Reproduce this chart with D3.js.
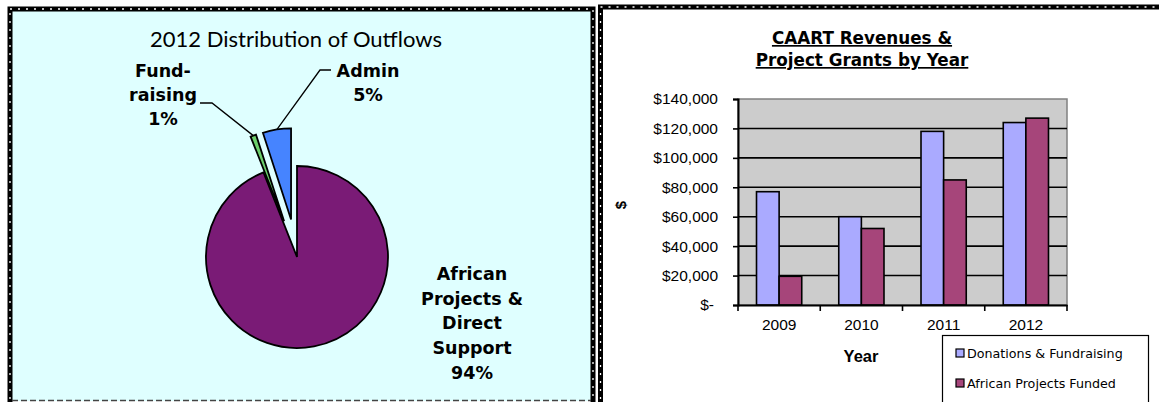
<!DOCTYPE html>
<html>
<head>
<meta charset="utf-8">
<script src="https://cdn.jsdelivr.net/npm/d3@7"></script>
<style>
  body { margin: 0; background: #fff; }
  svg { display: block; }
</style>
</head>
<body>
<div id="chart"></div>
<script>
// pie data
var pieNames = ["African Projects & Direct Support", "Fund-raising", "Admin"]
var pieValues = [94, 1, 5]
var pieColors = ["#7a1b76", "#6ccf6c", "#4684ff"]

// bar data
var years = ["2009", "2010", "2011", "2012"]
var donations = [77000, 60000, 118000, 124000]
var projects = [19500, 52000, 85000, 127000]
var seriesNames = ["Donations & Fundraising", "African Projects Funded"]
var seriesColors = ["#aaaaff", "#a6457a"]
var yTicks = [0, 20000, 40000, 60000, 80000, 100000, 120000, 140000]

var svg = d3.select("#chart").append("svg")
    .attr("width", 1159)
    .attr("height", 402)

// dotted frame like the spreadsheet border
function frame(x, y, w, h) {
    svg.append("rect").attr("x", x).attr("y", y).attr("width", w).attr("height", h)
        .attr("fill", "none").attr("stroke", "#000").attr("stroke-width", 5)
    svg.append("rect").attr("x", x).attr("y", y).attr("width", w).attr("height", h)
        .attr("fill", "none").attr("stroke", "#fff").attr("stroke-width", 1.3)
        .attr("stroke-dasharray", "2,6")
}

// ---------- left panel ----------
svg.append("rect").attr("x", 10).attr("y", 9).attr("width", 583).attr("height", 392)
    .attr("fill", "#dfffff")
frame(10, 9, 583, 420)
svg.append("line").attr("x1", 12).attr("x2", 591).attr("y1", 400.5).attr("y2", 400.5)
    .attr("stroke", "#444").attr("stroke-width", 1.5).attr("stroke-dasharray", "6,3")

svg.append("text").attr("x", 296).attr("y", 47)
    .attr("text-anchor", "middle")
    .style("font-family", "Lato, 'Open Sans', sans-serif").style("font-size", "22px")
    .text("2012 Distribution of Outflows")

var cx = 297, cy = 257, r = 91, explode = 38

var pie = d3.pie().sort(null).value(d => d)
var arcs = pie(pieValues)
var arc = d3.arc().innerRadius(0).outerRadius(r)

var pieG = svg.append("g").attr("transform", "translate(" + cx + "," + cy + ")")

pieG.selectAll("path")
    .data(arcs)
    .enter()
    .append("path")
    .attr("d", arc)
    .attr("transform", (d, i) => {
        if (i == 0) return null
        let a = (d.startAngle + d.endAngle) / 2
        return "translate(" + (Math.sin(a) * explode) + "," + (-Math.cos(a) * explode) + ")"
    })
    .style("fill", (d, i) => pieColors[i])
    .style("stroke", "#000")
    .style("stroke-width", 1.8)

function outerPoint(d) {
    let a = (d.startAngle + d.endAngle) / 2
    return [cx + Math.sin(a) * (explode + r), cy - Math.cos(a) * (explode + r)]
}

var labelFont = "'DejaVu Sans', Verdana, sans-serif"

// leader lines
var pF = outerPoint(arcs[1])
svg.append("polyline")
    .attr("points", [[200, 103], [212, 103], pF].join(" "))
    .attr("fill", "none").attr("stroke", "#000").attr("stroke-width", 1.3)
var pA = outerPoint(arcs[2])
svg.append("polyline")
    .attr("points", [[331, 70], [320, 70], pA].join(" "))
    .attr("fill", "none").attr("stroke", "#000").attr("stroke-width", 1.3)

function multiLabel(x, y, lines, step) {
    let t = svg.append("text").attr("text-anchor", "middle")
        .style("font-family", labelFont).style("font-size", "17.5px").style("font-weight", "bold")
    lines.forEach((l, i) => {
        t.append("tspan").attr("x", x).attr("y", y + i * step).text(l)
    })
}
multiLabel(163, 77, ["Fund-", "raising", pieValues[1] + "%"], 24)
multiLabel(368, 77, ["Admin", pieValues[2] + "%"], 24)
multiLabel(472, 280, ["African", "Projects &", "Direct", "Support", pieValues[0] + "%"], 24.7)

// ---------- right panel ----------
frame(600.5, 7, 620, 420)

svg.append("text").attr("x", 862).attr("y", 44)
    .attr("text-anchor", "middle")
    .style("font-family", labelFont).style("font-size", "16.8px").style("font-weight", "bold")
    .style("text-decoration", "underline")
    .text("CAART Revenues &")
svg.append("text").attr("x", 862).attr("y", 66)
    .attr("text-anchor", "middle")
    .style("font-family", labelFont).style("font-size", "16.8px").style("font-weight", "bold")
    .style("text-decoration", "underline")
    .text("Project Grants by Year ")

var plotLeft = 738, plotRight = 1067, plotTop = 99, plotBottom = 305

var x0 = d3.scaleBand().domain(years).range([plotLeft, plotRight])
var x1 = d3.scaleBand().domain([0, 1]).range([x0.bandwidth() * 0.225, x0.bandwidth() * 0.775])
var y = d3.scaleLinear().domain([0, 140000]).range([plotBottom, plotTop])

svg.append("rect").attr("x", plotLeft).attr("y", plotTop)
    .attr("width", plotRight - plotLeft).attr("height", plotBottom - plotTop)
    .attr("fill", "#cccccc").attr("stroke", "#808080").attr("stroke-width", 1.5)

// gridlines
svg.append("g").selectAll("line")
    .data(yTicks.slice(1, -1))
    .enter()
    .append("line")
    .attr("x1", plotLeft).attr("x2", plotRight)
    .attr("y1", d => y(d)).attr("y2", d => y(d))
    .attr("stroke", "#000").attr("stroke-width", 1.6)

// bars
var barData = []
years.forEach((yr, i) => {
    barData.push({ year: yr, s: 0, v: donations[i] })
    barData.push({ year: yr, s: 1, v: projects[i] })
})
svg.append("g").selectAll("rect")
    .data(barData)
    .enter()
    .append("rect")
    .attr("x", d => x0(d.year) + x1(d.s))
    .attr("y", d => y(d.v))
    .attr("width", x1.bandwidth())
    .attr("height", d => plotBottom - y(d.v))
    .style("fill", d => seriesColors[d.s])
    .style("stroke", "#000")
    .style("stroke-width", 1.6)

// y axis
var yAxis = svg.append("g")
    .attr("transform", "translate(" + plotLeft + ",0)")
    .call(d3.axisLeft(y).tickValues(yTicks).tickSize(5).tickPadding(15)
        .tickFormat(d => d == 0 ? "$-" : d3.format("$,")(d)))
yAxis.select(".domain").attr("stroke", "#000").attr("stroke-width", 2)
yAxis.selectAll(".tick line").attr("stroke", "#000").attr("stroke-width", 1.6)
yAxis.selectAll("text")
    .style("font-family", "'Liberation Sans', Arial, sans-serif").style("font-size", "15.5px")
    .attr("fill", "#000")
    .attr("dx", d => d == 0 ? -4 : 0)

// x axis
var xAxis = svg.append("g")
    .attr("transform", "translate(0," + plotBottom + ")")
    .call(d3.axisBottom(x0).tickSize(0).tickPadding(14))
xAxis.select(".domain").attr("stroke", "#000").attr("stroke-width", 2)
xAxis.selectAll("text")
    .style("font-family", "'Liberation Sans', Arial, sans-serif").style("font-size", "15.5px")
    .attr("fill", "#000")
svg.append("g").selectAll("line")
    .data(years.concat(["end"]))
    .enter()
    .append("line")
    .attr("x1", d => d == "end" ? plotRight : x0(d))
    .attr("x2", d => d == "end" ? plotRight : x0(d))
    .attr("y1", plotBottom).attr("y2", plotBottom + 6)
    .attr("stroke", "#000").attr("stroke-width", 1.6)

svg.append("text").attr("x", 861).attr("y", 362)
    .attr("text-anchor", "middle")
    .style("font-family", "'Liberation Sans', Arial, sans-serif").style("font-size", "16.5px").style("font-weight", "bold")
    .text("Year")

svg.append("text")
    .attr("transform", "translate(626,205) rotate(-90)")
    .attr("text-anchor", "middle")
    .style("font-family", "'Liberation Sans', Arial, sans-serif").style("font-size", "15px").style("font-weight", "bold")
    .text("$")

// legend
svg.append("rect").attr("x", 942.5).attr("y", 335.5).attr("width", 206).attr("height", 80)
    .attr("fill", "#fff").attr("stroke", "#000").attr("stroke-width", 1.2)
var leg = svg.append("g").selectAll("g")
    .data(seriesNames)
    .enter()
    .append("g")
    .attr("transform", (d, i) => "translate(956," + (349 + i * 30) + ")")
leg.append("rect").attr("width", 8).attr("height", 8)
    .style("fill", (d, i) => seriesColors[i]).style("stroke", "#000").style("stroke-width", 1.2)
leg.append("text").attr("x", 11).attr("y", 8.5)
    .style("font-family", "'DejaVu Sans', Verdana, sans-serif").style("font-size", "12.7px")
    .text(d => d)
</script>
</body>
</html>
